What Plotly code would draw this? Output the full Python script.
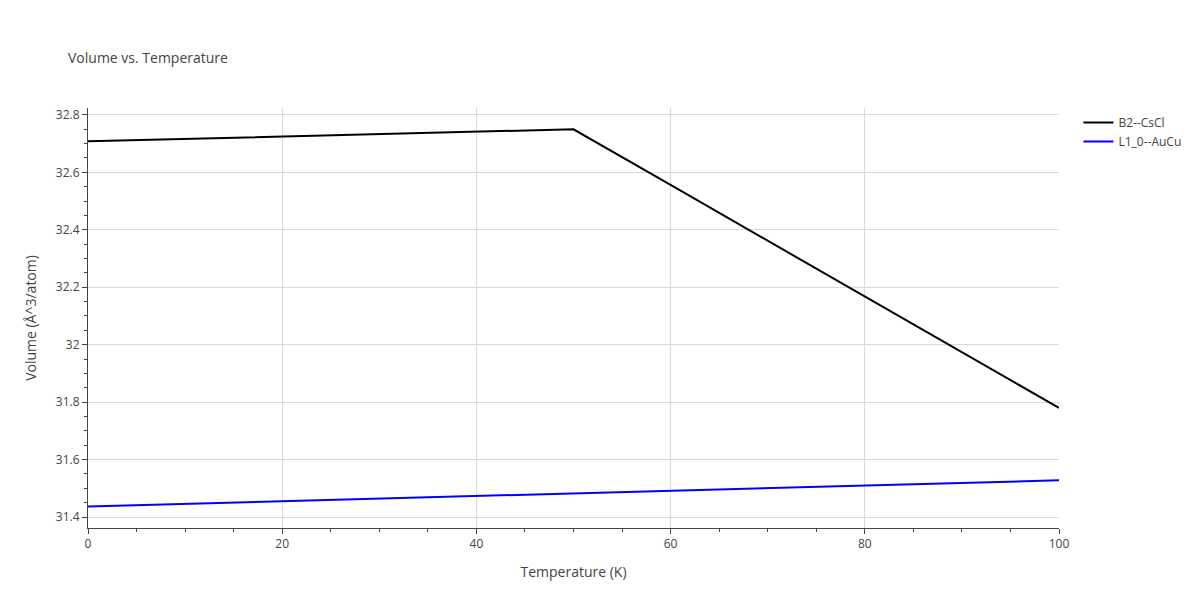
import plotly.graph_objects as go

temps = [0, 10, 20, 30, 40, 50, 60, 70, 80, 90, 100]
b2_vol = [32.708, 32.716, 32.725, 32.733, 32.742, 32.750, 32.556, 32.362, 32.168, 31.974, 31.780]
l10_vol = [31.437, 31.446, 31.455, 31.464, 31.473, 31.482, 31.491, 31.500, 31.510, 31.519, 31.528]

fig = go.Figure()
fig.add_trace(go.Scatter(x=temps, y=b2_vol, mode="lines", name="B2--CsCl", line=dict(color="black", width=2)))
fig.add_trace(go.Scatter(x=temps, y=l10_vol, mode="lines", name="L1_0--AuCu", line=dict(color="blue", width=2)))

axis_common = dict(showgrid=True, gridcolor="#d9d9d9", showline=True, linecolor="#444", ticks="outside",
                   tickcolor="#444", zeroline=False, minor=dict(ticks="outside", ticklen=3, tickcolor="#444", showgrid=False),
                   tickfont=dict(color="#444"))
fig.update_layout(
    width=1200, height=600, plot_bgcolor="white", paper_bgcolor="white",
    title=dict(text="Volume vs. Temperature", x=0.05, y=0.925, font=dict(size=14, color="#444")),
    margin=dict(l=80, r=149, t=100, b=80),
    font=dict(family="Open Sans, sans-serif", size=12, color="#444"),
    legend=dict(x=1.02, y=1, font=dict(color="#444")),
    xaxis=dict(title="Temperature (K)", range=[0, 100], dtick=20, minor_dtick=5, **axis_common),
    yaxis=dict(title="Volume (Å^3/atom)", range=[31.362, 32.824], dtick=0.2, minor_dtick=0.05, **axis_common),
)
fig.write_html("out.html")
